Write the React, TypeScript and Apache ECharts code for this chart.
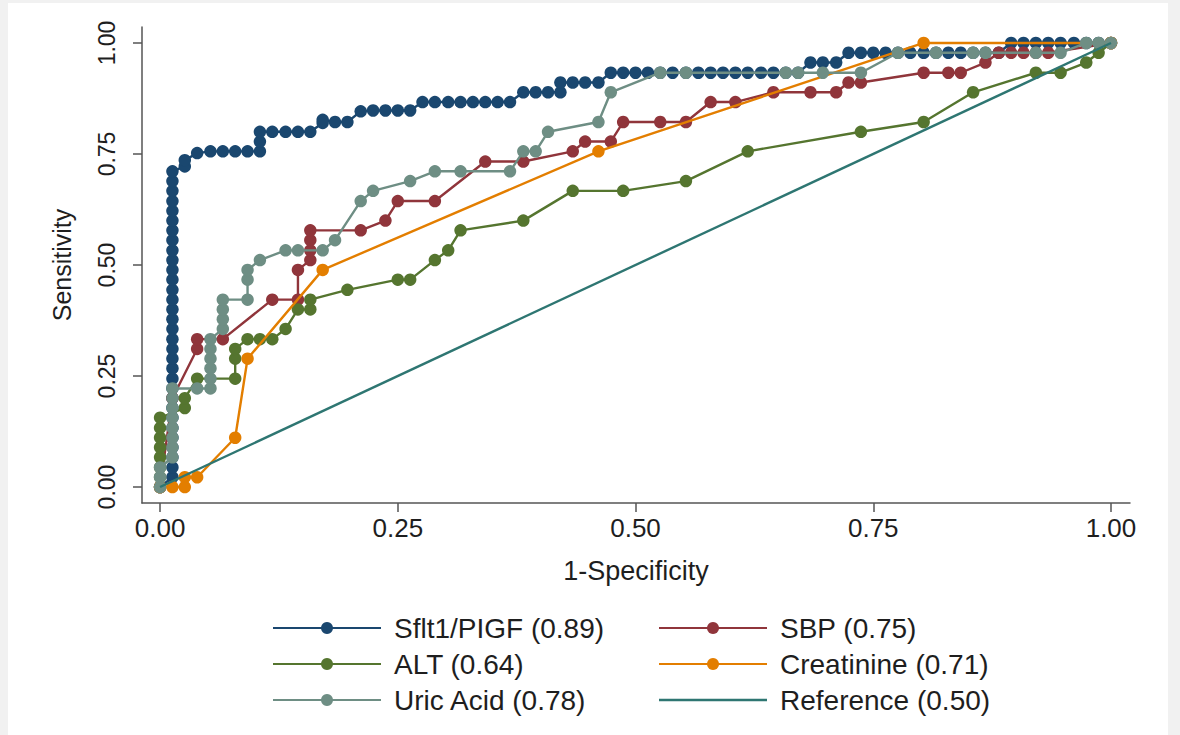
import React, { useEffect, useRef } from "react";
import * as echarts from "echarts";

const tickValues = [0, 0.25, 0.5, 0.75, 1];

const seriesNames = [
  "Sflt1/PIGF (0.89)",
  "SBP (0.75)",
  "ALT (0.64)",
  "Creatinine (0.71)",
  "Uric Acid (0.78)",
  "Reference (0.50)",
];

const sfltPoints: [number, number][] = [
  [0, 0],
  [0.013, 0.022], [0.013, 0.044], [0.013, 0.067], [0.013, 0.089], [0.013, 0.111], [0.013, 0.133],
  [0.013, 0.156], [0.013, 0.178], [0.013, 0.2], [0.013, 0.222], [0.013, 0.244], [0.013, 0.267],
  [0.013, 0.289], [0.013, 0.311], [0.013, 0.333], [0.013, 0.356], [0.013, 0.378], [0.013, 0.4],
  [0.013, 0.422], [0.013, 0.444], [0.013, 0.467], [0.013, 0.489], [0.013, 0.511], [0.013, 0.533],
  [0.013, 0.556], [0.013, 0.578], [0.013, 0.6], [0.013, 0.622], [0.013, 0.644], [0.013, 0.667],
  [0.013, 0.689], [0.013, 0.711],
  [0.026, 0.722], [0.026, 0.736], [0.039, 0.752], [0.053, 0.756], [0.066, 0.756], [0.079, 0.756],
  [0.092, 0.756], [0.105, 0.756], [0.105, 0.778], [0.105, 0.8],
  [0.118, 0.8], [0.132, 0.8], [0.145, 0.8], [0.158, 0.8], [0.171, 0.82], [0.171, 0.827],
  [0.184, 0.822], [0.197, 0.822], [0.211, 0.846], [0.224, 0.848], [0.237, 0.848], [0.25, 0.848],
  [0.263, 0.848], [0.276, 0.867], [0.289, 0.867], [0.303, 0.867], [0.316, 0.867], [0.329, 0.867],
  [0.342, 0.867], [0.355, 0.867], [0.368, 0.867], [0.382, 0.889], [0.395, 0.889], [0.408, 0.889],
  [0.421, 0.889], [0.421, 0.911], [0.434, 0.911], [0.447, 0.911], [0.461, 0.911], [0.474, 0.933],
  [0.487, 0.933], [0.5, 0.933], [0.513, 0.933], [0.526, 0.933], [0.539, 0.933], [0.553, 0.933],
  [0.566, 0.933], [0.579, 0.933], [0.592, 0.933], [0.605, 0.933], [0.618, 0.933], [0.632, 0.933],
  [0.645, 0.933], [0.658, 0.933], [0.671, 0.933], [0.684, 0.956], [0.697, 0.956], [0.711, 0.956],
  [0.724, 0.978], [0.737, 0.978], [0.75, 0.978], [0.763, 0.978], [0.776, 0.978], [0.789, 0.978],
  [0.803, 0.978], [0.816, 0.978], [0.829, 0.978], [0.842, 0.978], [0.855, 0.978], [0.868, 0.978],
  [0.882, 0.978], [0.895, 1], [0.908, 1], [0.921, 1], [0.934, 1], [0.947, 1], [0.961, 1],
  [0.974, 1], [0.987, 1], [1, 1],
];

const sbpPoints: [number, number][] = [
  [0, 0], [0.013, 0.2], [0.039, 0.311], [0.039, 0.333], [0.066, 0.333], [0.118, 0.422],
  [0.145, 0.422], [0.145, 0.489], [0.158, 0.511], [0.158, 0.533], [0.158, 0.556], [0.158, 0.578],
  [0.211, 0.578], [0.237, 0.6], [0.25, 0.644], [0.289, 0.644], [0.342, 0.733], [0.382, 0.733],
  [0.434, 0.756], [0.447, 0.778], [0.474, 0.778], [0.487, 0.822], [0.526, 0.822], [0.553, 0.822],
  [0.579, 0.867], [0.605, 0.867], [0.645, 0.889], [0.684, 0.889], [0.711, 0.889], [0.724, 0.911],
  [0.737, 0.911], [0.803, 0.933], [0.829, 0.933], [0.842, 0.933], [0.868, 0.956], [0.882, 0.978],
  [0.895, 0.978], [0.908, 0.978], [0.921, 0.978], [0.934, 0.978], [1, 1],
];

const altPoints: [number, number][] = [
  [0, 0], [0, 0.022], [0, 0.044], [0, 0.067], [0, 0.089], [0, 0.111], [0, 0.133], [0, 0.156],
  [0.026, 0.178], [0.026, 0.2], [0.039, 0.244], [0.079, 0.244], [0.079, 0.289], [0.079, 0.311],
  [0.092, 0.333], [0.105, 0.333], [0.118, 0.333], [0.132, 0.356], [0.145, 0.4], [0.158, 0.4],
  [0.158, 0.422], [0.197, 0.444], [0.25, 0.467], [0.263, 0.467], [0.289, 0.511], [0.303, 0.533],
  [0.316, 0.578], [0.382, 0.6], [0.434, 0.667], [0.487, 0.667], [0.553, 0.689], [0.618, 0.756],
  [0.737, 0.8], [0.803, 0.822], [0.855, 0.889], [0.921, 0.933], [0.947, 0.933], [0.974, 0.956],
  [0.987, 0.978], [1, 1],
];

const creatininePoints: [number, number][] = [
  [0, 0], [0.013, 0], [0.026, 0], [0.026, 0.022], [0.039, 0.022], [0.079, 0.111], [0.092, 0.289],
  [0.171, 0.489], [0.461, 0.756], [0.803, 1], [1, 1],
];

const uricPoints: [number, number][] = [
  [0, 0], [0, 0.022], [0, 0.044], [0.013, 0.067], [0.013, 0.089], [0.013, 0.111], [0.013, 0.133],
  [0.013, 0.156], [0.013, 0.178], [0.013, 0.2], [0.013, 0.222], [0.039, 0.222], [0.053, 0.222],
  [0.053, 0.244], [0.053, 0.267], [0.053, 0.289], [0.053, 0.311], [0.053, 0.333], [0.066, 0.356],
  [0.066, 0.378], [0.066, 0.4], [0.066, 0.422], [0.092, 0.422], [0.092, 0.467], [0.092, 0.489],
  [0.105, 0.511], [0.132, 0.533], [0.145, 0.533], [0.171, 0.533], [0.184, 0.556], [0.211, 0.644],
  [0.224, 0.667], [0.263, 0.689], [0.289, 0.711], [0.316, 0.711], [0.368, 0.711], [0.382, 0.756],
  [0.395, 0.756], [0.408, 0.8], [0.461, 0.822], [0.474, 0.889], [0.526, 0.933], [0.553, 0.933],
  [0.658, 0.933], [0.671, 0.933], [0.697, 0.933], [0.737, 0.933], [0.776, 0.978], [0.816, 0.978],
  [0.855, 0.978], [0.868, 0.978], [0.921, 0.978], [0.947, 0.978], [0.974, 1], [0.987, 1], [1, 1],
];

const referencePoints: [number, number][] = [
  [0, 0],
  [1, 1],
];

const colors = ["#1a476f", "#90353b", "#55752f", "#e37e00", "#6e8e84", "#2e7672"];

const FONT = "'Liberation Sans', Arial, sans-serif";

export default function App() {
  const ref = useRef<HTMLDivElement>(null);

  useEffect(() => {
    if (!ref.current) return;
    const chart = echarts.init(ref.current, null, { renderer: "svg" });
    const dataSets = [sfltPoints, sbpPoints, altPoints, creatininePoints, uricPoints, referencePoints];

    const series = dataSets.map((pts, i) => {
      const isRef = i === 5;
      return {
        name: seriesNames[i],
        type: "line",
        data: pts,
        symbol: isRef ? "none" : "circle",
        symbolSize: 12.5,
        showAllSymbol: true,
        color: colors[i],
        lineStyle: { color: colors[i], width: 2.4 },
        itemStyle: { color: colors[i] },
        emphasis: { disabled: true },
        z: 2 + i * 0.01,
      };
    });

    const axisCommon = {
      type: "value",
      axisLine: { show: true, onZero: false, lineStyle: { color: "#555555", width: 1.5 } },
      axisTick: { show: true, length: 9, customValues: tickValues, lineStyle: { color: "#555555", width: 1.5 } },
      splitLine: { show: false },
    };

    const legendText = { fontFamily: FONT, fontSize: 28, color: "#1e1e1e", padding: [0, 0, 0, 8] };
    const legendCommon = {
      orient: "vertical",
      top: 609,
      itemWidth: 108,
      itemHeight: 15,
      itemGap: 8,
      textStyle: legendText,
      selectedMode: false,
    };

    chart.setOption({
      animation: false,
      textStyle: { fontFamily: FONT },
      grid: { left: 142, top: 27, right: 50, bottom: 232, containLabel: false },
      xAxis: {
        ...axisCommon,
        min: -0.019,
        max: 1.02,
        name: "1-Specificity",
        nameLocation: "middle",
        nameGap: 54,
        nameTextStyle: { fontFamily: FONT, fontSize: 27, color: "#1e1e1e", verticalAlign: "top" },
        axisLabel: {
          customValues: tickValues,
          formatter: (v: number) => v.toFixed(2),
          fontFamily: FONT,
          fontSize: 26,
          color: "#1e1e1e",
          margin: 12,
        },
      },
      yAxis: {
        ...axisCommon,
        min: -0.036,
        max: 1.036,
        name: "Sensitivity",
        nameLocation: "middle",
        nameGap: 68,
        nameTextStyle: { fontFamily: FONT, fontSize: 25, color: "#1e1e1e" },
        axisLabel: {
          customValues: tickValues,
          formatter: (v: number) => v.toFixed(2),
          fontFamily: FONT,
          fontSize: 23,
          color: "#1e1e1e",
          rotate: 90,
          margin: 24,
        },
      },
      legend: [
        {
          ...legendCommon,
          left: 267,
          data: [seriesNames[0], seriesNames[2], seriesNames[4]],
        },
        {
          ...legendCommon,
          left: 653,
          data: [
            seriesNames[1],
            seriesNames[3],
            { name: seriesNames[5], icon: "path://M0,0L108,0L108,2.6L0,2.6Z" },
          ],
        },
      ],
      series,
    });

    return () => chart.dispose();
  }, []);

  return (
    <div style={{ position: "fixed", left: 0, top: 0, width: 1180, height: 735, background: "#f1f1f1" }}>
      <div style={{ position: "absolute", left: 8, top: 3, width: 1160, height: 732, background: "#ffffff" }} />
      <div ref={ref} style={{ position: "absolute", left: 0, top: 0, width: 1180, height: 735 }} />
    </div>
  );
}
